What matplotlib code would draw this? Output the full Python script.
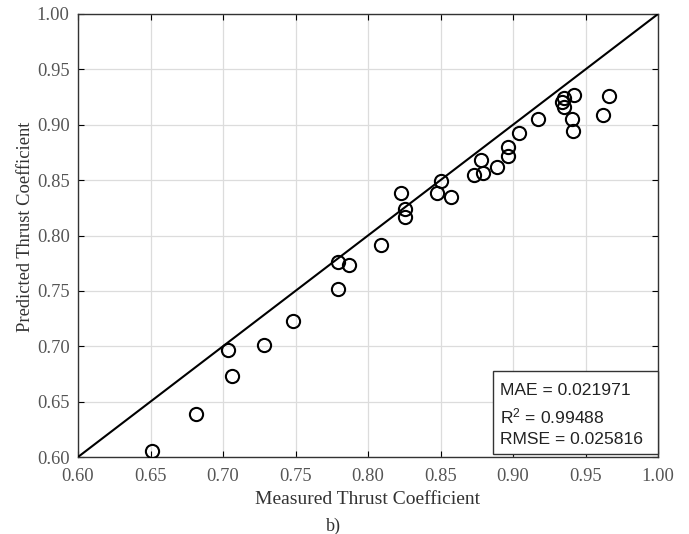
import matplotlib
matplotlib.use("Agg")
import matplotlib.pyplot as plt
from matplotlib.patches import Rectangle

measured = [0.651, 0.6816, 0.7034, 0.7062, 0.728, 0.7485, 0.779, 0.7869, 0.779,
            0.8088, 0.823, 0.8255, 0.8255, 0.8478, 0.850, 0.857, 0.873, 0.879,
            0.878, 0.8887, 0.8963, 0.8963, 0.904, 0.9172, 0.9338, 0.9354, 0.9350,
            0.942, 0.9407, 0.9411, 0.9618, 0.966]
predicted = [0.605, 0.6388, 0.6963, 0.6728, 0.7008, 0.7228, 0.7763, 0.773, 0.7514,
             0.791, 0.838, 0.824, 0.8164, 0.8387, 0.8495, 0.8348, 0.8546, 0.856,
             0.868, 0.862, 0.880, 0.8715, 0.8926, 0.9055, 0.9208, 0.9239, 0.9163,
             0.927, 0.9055, 0.8946, 0.9088, 0.926]
ticks = [0.60, 0.65, 0.70, 0.75, 0.80, 0.85, 0.90, 0.95, 1.00]
tick_labels = ["0.60", "0.65", "0.70", "0.75", "0.80", "0.85", "0.90", "0.95", "1.00"]
stats_lines = ["MAE = 0.021971", "$\\mathregular{R^2}$ = 0.99488", "RMSE = 0.025816"]

fig = plt.figure(figsize=(6.89, 5.34), dpi=100)
ax = fig.add_axes([78/689, 77/534, 580/689, 443/534])

ax.plot([0.6, 1.0], [0.6, 1.0], color="black", lw=1.5, zorder=3)
ax.plot(measured, predicted, linestyle="none", marker="o", markersize=9.5,
        markerfacecolor="none", markeredgecolor="black", markeredgewidth=1.5, zorder=4)

ax.set_xlim(0.6, 1.0)
ax.set_ylim(0.6, 1.0)
ax.set_xticks(ticks)
ax.set_yticks(ticks)
ax.set_xticklabels(tick_labels)
ax.set_yticklabels(tick_labels)
ax.grid(True, color="#dcdcdc", lw=0.9)
ax.set_axisbelow(True)
ax.tick_params(direction="in", top=True, right=True, length=4, width=0.8,
               labelsize=13.3, labelcolor="#555555")
ax.tick_params(axis="x", pad=8)
ax.tick_params(axis="y", pad=6)
for lab in ax.get_xticklabels() + ax.get_yticklabels():
    lab.set_family("Liberation Serif")
for s in ax.spines.values():
    s.set_color("#333333")
    s.set_linewidth(1.0)

ax.set_xlabel("Measured Thrust Coefficient", family="Liberation Serif", fontsize=14,
              color="#333333")
ax.xaxis.set_label_coords(0.5, -0.077)
ax.set_ylabel("Predicted Thrust Coefficient", family="Liberation Serif", fontsize=13.3,
              color="#333333")
ax.yaxis.set_label_coords(-0.075, 0.52)
fig.text(333/689, 1 - 526/534, "b)", family="Liberation Serif", fontsize=13,
         color="#333333", ha="center", va="center")

ax.add_patch(Rectangle((0.7155, 0.0068), 0.2845, 0.1874, transform=ax.transAxes,
                       facecolor="white", edgecolor="#333333", lw=1.0, zorder=6,
                       clip_on=False))
for line, yy in zip(stats_lines, [0.140, 0.076, 0.0293]):
    ax.text(0.7276, yy, line, transform=ax.transAxes, family="Liberation Sans",
            fontsize=12.6, color="#222222", ha="left", va="baseline", zorder=7)

fig.savefig("out.png", dpi=100)
